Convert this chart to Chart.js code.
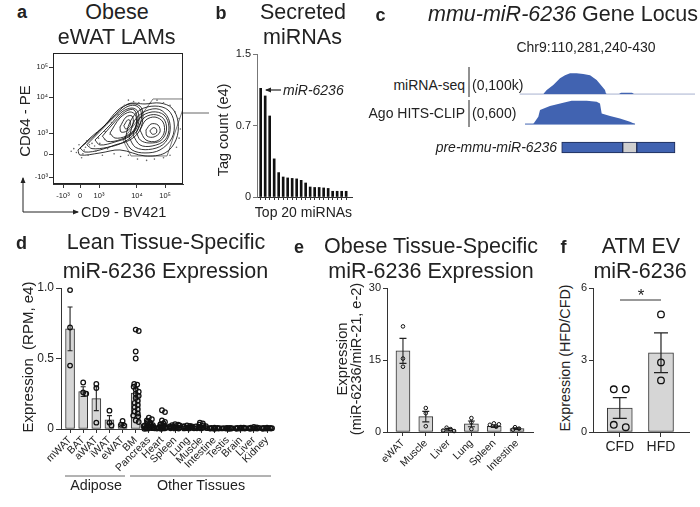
<!DOCTYPE html>
<html><head><meta charset="utf-8"><title>miR-6236</title>
<script src="https://cdn.jsdelivr.net/npm/chart.js@4.4.1/dist/chart.umd.min.js"></script>
<style>
html,body{margin:0;padding:0;background:#fff}
body{position:relative;width:700px;height:507px;overflow:hidden;font-family:"Liberation Sans",Arial,Helvetica,sans-serif;color:#222}
.t{position:absolute;white-space:nowrap;line-height:1}
canvas{position:absolute}
svg{position:absolute;left:0;top:0;z-index:5}
</style></head><body>
<svg width="700" height="507">
<defs><marker id="ah" markerWidth="6" markerHeight="6" refX="5" refY="3" orient="auto" markerUnits="userSpaceOnUse"><path d="M0,0.5 L6,3 L0,5.5 z" fill="#222"/></marker></defs>
<line x1="23" y1="212" x2="23" y2="178" stroke="#222" stroke-width="1" marker-end="url(#ah)"/>
<line x1="23" y1="212" x2="78" y2="212" stroke="#222" stroke-width="1" marker-end="url(#ah)"/>
<line x1="183" y1="113" x2="209" y2="113" stroke="#666" stroke-width="1"/>
<line x1="281" y1="90" x2="266" y2="90" stroke="#222" stroke-width="1.2" marker-end="url(#ah)"/>
<line x1="469" y1="67" x2="469" y2="97" stroke="#222" stroke-width="1"/>
<line x1="469" y1="100" x2="469" y2="127" stroke="#222" stroke-width="1"/>
<line x1="65" y1="476" x2="125" y2="476" stroke="#666" stroke-width="1"/>
<line x1="130" y1="476" x2="271" y2="476" stroke="#666" stroke-width="1"/>
<line x1="620" y1="300" x2="661" y2="300" stroke="#333" stroke-width="1"/>
</svg>
<script>
// ================= DATA =================
// Panel a : flow cytometry gate (axis units = display positions of the biexponential axes)
const aXTickPos = [7.7, 20.8, 35.4, 64.6, 86.2];
const aXTickLabels = ['-10³', '0', '10³', '10⁴', '10⁵'];
const aYTickPos = [5.3, 22.9, 38.9, 66.4, 89.3];
const aYTickLabels = ['-10³', '0', '10³', '10⁴', '10⁵'];
const aContourOuter = [[19.2,26],[32.3,37.4],[45.4,50.4],[57.7,61.1],[70.8,61.1],[82.3,61.8],[91.5,58],[96.2,47.3],[94.6,33.6],[86.2,23.7],[70.8,21.4],[51.5,26],[36.2,23.7],[20.8,22.1],[19.2,26]];
const aContoursLeft = [
 [[20.8,27.5],[28.5,35.1],[40,45],[50,56.5],[59.2,61.1],[66.9,59.5],[69.2,52.7],[66.9,41.2],[59.2,33.6],[47.7,29.8],[36.2,26],[24.6,24.4],[20.8,27.5]],
 [[26,30],[36,40],[47,51],[56,58.5],[63,60],[67.5,56],[67.5,47],[63,38.5],[53.5,31.5],[42,28],[30,27],[26,30]],
 [[32.3,33.6],[43.8,45],[53.1,55],[60.8,58],[65.4,55],[65.4,45],[59.2,36.6],[47.7,32.1],[36.2,29.8],[32.3,33.6]],
 [[38,36.5],[48,48],[56,55.5],[62.5,56.5],[64.8,48],[61.5,39.5],[52,34],[42,32.5],[38,36.5]],
 [[43.8,38.9],[51.5,50.4],[59.2,55],[63.8,51.9],[63.1,42.7],[56.2,36.6],[47.7,35.1],[43.8,38.9]],
 [[51.5,43.5],[56.2,51.1],[60.8,51.9],[61.5,45.8],[56.9,40.5],[52.3,39.7],[51.5,43.5]],
 [[54.5,44.5],[57.5,49],[59.5,48],[59,44],[56,42],[54.5,44.5]]
];
const aContoursRight = [
 [[55.4,33.6],[59.2,47.3],[66.9,56.5],[78.5,59.5],[88.5,56.5],[93.1,47.3],[91.5,35.1],[82.3,26],[70.8,23.7],[60.8,26],[55.4,33.6]],
 [[58.5,35.5],[63,48.8],[71.5,55.8],[81.8,57],[88.8,50],[89.8,39],[84.5,30],[73.5,26.3],[63.5,28],[58.5,35.5]],
 [[61.5,37.4],[66.9,50.4],[76.2,55],[85.4,52.7],[89.2,43.5],[86.2,33.6],[76.2,29],[66.9,29.8],[61.5,37.4]],
 [[64.2,39.3],[69.2,49.7],[77.3,53],[85,50],[87.3,41.2],[83,33.2],[74,31.3],[67.2,33.5],[64.2,39.3]],
 [[66.9,41.2],[71.5,48.9],[78.5,51.1],[84.6,47.3],[85.4,38.9],[80,32.8],[71.5,33.6],[66.9,41.2]],
 [[71.5,41.2],[75.4,45.8],[80.8,45],[82.3,39.7],[77.7,35.9],[72.3,36.6],[71.5,41.2]],
 [[74.5,40.5],[77,43],[79.5,42],[79.5,39],[76.5,38],[74.5,40.5]]
];
const aGate = [[76.9,64.9],[100,64.9],[100,57.3],[87.7,21.4],[60,21.4],[53.8,33.6],[69.2,54.2],[76.9,64.9]];
const aDots = [[18,24],[22,20],[25,28],[27,22],[30,31],[33,25],[35,35],[38,22],[40,40],[42,27],[45,47],[47,23],[50,53],[52,21],[55,60],[58,64],[62,63],[66,62],[70,64],[75,62],[80,64],[85,62],[90,60],[94,55],[97,50],[98,42],[97,35],[95,28],[90,22],[85,20],[78,19],[72,18],[65,19],[58,22],[28,30],[32,29],[36,31],[40,34],[44,38],[24,26],[16,27],[20,30],[14,25],[26,33],[23,23]];

// Panel b : secreted miRNAs, top 20 (tag count, e4)
const bValues = [1.14, 1.06, 0.85, 0.40, 0.256, 0.21, 0.20, 0.195, 0.19, 0.175, 0.147, 0.105, 0.10, 0.10, 0.095, 0.09, 0.06, 0.06, 0.06, 0.06];
const bTickVals = [0, 0.75, 1.5];
const bTickLabels = ['0', '0.7', '1.5'];

// Panel c : locus chr9:110,281,240-430 coverage
const cSeqPos = [269.9, 273.5, 280.4, 287.5, 292.8, 298.1, 305, 312.1, 319.2, 326.2, 331.5, 335.0, 336.0, 337.1, 349.8, 351.9, 363.5, 365.6];
const cSeqVal = [0, 12.5, 28, 49, 59, 64.7, 65, 62.5, 59, 44, 25, 12.5, 2, 0, 0, 4, 4, 0];   // (0,100k)
const cSeqRange = [245, 430];
const cClipPos = [250.6, 259.3, 264.6, 266.4, 276.9, 290.9, 299.8, 315.7, 326.2, 329.7, 331.5, 340.3, 350.8, 361.4, 366.7];
const cClipVal = [0, 0, 137, 262, 337, 400, 437, 437, 419, 387, 200, 150, 106, 43, 0];       // (0,600)
const cClipRange = [250.6, 366.7];
const cGeneSegments = [[289.3, 353.7], [353.7, 368.5], [368.5, 408.9]];
const cGeneKinds = ['arm', 'loop', 'arm'];

// Panel d : lean tissue-specific expression (RPM, e4)
const dCats = ['mWAT','BAT','aWAT','iWAT','eWAT','BM','Pancreas','Heart','Spleen','Lung','Muscle','Intestine','Testis','Brain','Liver','Kidney'];
const dMeans = [0.71, 0.265, 0.215, 0.065, 0.035, 0.255, 0.02, 0.02, 0.015, 0.012, 0.015, 0.005, 0.004, 0.005, 0.006, 0.004];
const dSem = [0.155, 0.035, 0.085, 0.03, 0.01, 0.035, 0.005, 0.008, 0.003, 0.002, 0.004, 0.001, 0.001, 0.001, 0.001, 0.001];
const dPoints = [
 [0.985, 0.72, 0.45],
 [0.33, 0.26, 0.25],
 [0.32, 0.29, 0.045],
 [0.13, 0.045, 0.025],
 [0.057, 0.03, 0.025],
 [0.705, 0.695, 0.55, 0.50, 0.32, 0.315, 0.30, 0.28, 0.265, 0.25, 0.235, 0.22, 0.20, 0.185, 0.17, 0.155, 0.14, 0.125, 0.11, 0.095, 0.09, 0.06, 0.05],
 [0.08, 0.07, 0.06, 0.05, 0.045, 0.04, 0.035, 0.03, 0.028, 0.025, 0.022, 0.02, 0.018, 0.015, 0.012, 0.01, 0.008, 0.006, 0.005, 0.004, 0.003, 0.002],
 [0.133, 0.12, 0.06, 0.05, 0.04, 0.035, 0.03, 0.025, 0.02, 0.018, 0.015, 0.012, 0.01, 0.008, 0.006, 0.005, 0.004, 0.003, 0.002],
 [0.035, 0.03, 0.028, 0.025, 0.02, 0.018, 0.015, 0.012, 0.01, 0.008, 0.006, 0.005, 0.004, 0.003],
 [0.025, 0.022, 0.02, 0.018, 0.015, 0.012, 0.01, 0.008, 0.006, 0.005, 0.004, 0.003],
 [0.045, 0.04, 0.03, 0.025, 0.02, 0.018, 0.015, 0.012, 0.01, 0.008, 0.006, 0.005, 0.004],
 [0.01, 0.008, 0.007, 0.006, 0.005, 0.004, 0.004, 0.003, 0.003, 0.002],
 [0.008, 0.007, 0.006, 0.005, 0.004, 0.004, 0.003, 0.003, 0.002],
 [0.01, 0.009, 0.008, 0.006, 0.005, 0.004, 0.003, 0.003, 0.002],
 [0.014, 0.012, 0.01, 0.008, 0.006, 0.005, 0.004, 0.003, 0.002],
 [0.01, 0.008, 0.007, 0.006, 0.005, 0.004, 0.003, 0.003, 0.002]
];
const dTickVals = [0, 0.5, 1.0];
const dTickLabels = ['0', '0.5', '1.0'];

// Panel e : obese tissue-specific expression (miR-6236/miR-21, e-2)
const eCats = ['eWAT','Muscle','Liver','Lung','Spleen','Intestine'];
const eMeans = [16.9, 3.2, 0.5, 1.7, 1.2, 0.7];
const eSem = [2.6, 1.1, 0.25, 0.6, 0.25, 0.15];
const ePoints = [[22.0, 15.3, 13.6],[5.0, 3.9, 1.2],[0.9, 0.6, 0.3, 0.2],[2.9, 2.0, 0.6],[1.8, 1.6, 1.5, 1.1],[1.0, 0.7, 0.5]];
const eTickVals = [0, 15, 30];
const eTickLabels = ['0', '15', '30'];

// Panel f : ATM EV miR-6236 (HFD/CFD)
const fCats = ['CFD','HFD'];
const fMeans = [1.0, 3.3];
const fSem = [0.43, 0.83];
const fPoints = [[1.78, 1.78, 0.3, 0.2],[4.9, 2.9, 2.15]];
const fTickVals = [0, 3, 6];
const fTickLabels = ['0', '3', '6'];

// ================= HELPERS =================
Chart.defaults.font.family = '"Liberation Sans", Arial, Helvetica, sans-serif';
Chart.defaults.color = '#222';
const BLUE = '#4163b1';

function T(html, x, y, o = {}) {
  const d = document.createElement('div');
  d.className = 't';
  d.innerHTML = html;
  d.style.fontSize = (o.fs || 14) + 'px';
  if (o.b) d.style.fontWeight = 'bold';
  if (o.i) d.style.fontStyle = 'italic';
  d.style.left = x + 'px';
  d.style.top = y + 'px';
  const a = o.a || 'c';
  const tx = a === 'c' ? '-50%' : (a === 'l' ? '0%' : '-100%');
  d.style.transform = 'translate(' + tx + ',-50%)' + (o.rot ? ' rotate(' + o.rot + 'deg)' : '');
  document.body.appendChild(d);
}

function mk(left, top, w, h, cfg) {
  const c = document.createElement('canvas');
  c.width = w; c.height = h;
  c.style.left = left + 'px'; c.style.top = top + 'px';
  c.style.width = w + 'px'; c.style.height = h + 'px';
  document.body.appendChild(c);
  cfg.options = cfg.options || {};
  Object.assign(cfg.options, { responsive: false, animation: false, maintainAspectRatio: false });
  cfg.options.plugins = Object.assign({ legend: { display: false }, tooltip: { enabled: false } }, cfg.options.plugins || {});
  cfg.options.layout = cfg.options.layout || { padding: 0 };
  return new Chart(c, cfg);
}

function yAx(min, max, vals, labels, width, o = {}) {
  return {
    type: 'linear', min, max, offset: false,
    afterFit: s => { s.width = width; },
    afterBuildTicks: s => { s.ticks = vals.map(v => ({ value: v })); },
    ticks: { callback: (v, i) => labels[i], autoSkip: false, font: { size: o.fs || 11 }, color: '#222', padding: o.pad ?? 2 },
    grid: { offset: false, drawOnChartArea: false, drawTicks: true, tickLength: o.tl ?? 4, tickColor: o.col || '#333', tickWidth: 1 },
    border: { display: true, color: o.col || '#333', width: 1 }
  };
}
function xAx(min, max, vals, labels, height, o = {}) {
  return {
    type: 'linear', min, max, offset: false,
    afterFit: s => { s.height = height; },
    afterBuildTicks: s => { s.ticks = vals.map(v => ({ value: v })); },
    ticks: { callback: (v, i) => labels[i], autoSkip: false, minRotation: o.rot || 0, maxRotation: o.rot || 0, font: { size: o.fs || 11 }, color: '#222', padding: o.pad ?? 2 },
    grid: { offset: false, drawOnChartArea: false, drawTicks: true, tickLength: o.tl ?? 4, tickColor: '#333', tickWidth: 1 },
    border: { display: true, color: '#333', width: 1 }
  };
}
function errBars(means, sem, cap, lw) {
  return { id: 'errbars', afterDatasetDraw(chart, args) {
    if (args.meta.type !== 'bar') return;
    const ctx = chart.ctx, x = chart.scales.x, y = chart.scales.y;
    ctx.save(); ctx.strokeStyle = '#222'; ctx.lineWidth = lw; ctx.beginPath();
    means.forEach((m, i) => {
      const px = x.getPixelForValue(i);
      const t = y.getPixelForValue(m + sem[i]);
      const b = y.getPixelForValue(Math.max(0, m - sem[i]));
      ctx.moveTo(px, t); ctx.lineTo(px, b);
      ctx.moveTo(px - cap, t); ctx.lineTo(px + cap, t);
      ctx.moveTo(px - cap, b); ctx.lineTo(px + cap, b);
    });
    ctx.stroke(); ctx.restore();
  } };
}
const framePlugin = { id: 'frame', afterDraw(ch) {
  const ctx = ch.ctx, a = ch.chartArea;
  ctx.save(); ctx.strokeStyle = '#222'; ctx.lineWidth = 1;
  ctx.strokeRect(Math.round(a.left) + 0.5, Math.round(a.top) + 0.5, Math.round(a.right - a.left) - 1, Math.round(a.bottom - a.top) - 1);
  ctx.restore();
} };
// deterministic beeswarm layout of replicate dots (offsets in px -> category units)
function swarm(vals, pxX, pxY, sep, maxOff) {
  const placed = [];
  const offs = vals.map(v => {
    const yp = v * pxY; let best = 0, bestD = -1;
    for (let k = 0; k <= 2 * maxOff; k++) {
      const off = (k % 2 === 1 ? 1 : -1) * Math.ceil(k / 2);
      let d = Infinity;
      placed.forEach(p => { d = Math.min(d, Math.hypot(p[0] - off, p[1] - yp)); });
      if (d >= sep) { best = off; bestD = d; break; }
      if (d > bestD) { bestD = d; best = off; }
    }
    placed.push([best, yp]);
    return best;
  });
  // centre each row of (nearly) equal values around the category
  const tol = sep * 0.4;
  const idx = vals.map((_, i) => i).sort((a, b) => vals[b] - vals[a]);
  let row = [];
  const flush = () => {
    if (row.length > 1) { const m = row.reduce((s, i) => s + offs[i], 0) / row.length; row.forEach(i => { offs[i] -= m; }); }
    row = [];
  };
  idx.forEach(i => { if (row.length && Math.abs(vals[row[0]] - vals[i]) * pxY > tol) flush(); row.push(i); });
  flush();
  return offs.map(o => o / pxX);
}
function dotData(points, pxX, pxY, sep, maxOff) {
  const out = [];
  points.forEach((arr, i) => {
    const offs = swarm(arr, pxX, pxY, sep, maxOff);
    arr.forEach((v, j) => out.push({ x: i + offs[j], y: v }));
  });
  return out;
}
const xy = arr => arr.map(p => ({ x: p[0], y: p[1] }));

// ================= PANEL A =================
const aSets = [];
aSets.push({ data: xy(aDots), pointRadius: 0.8, pointBackgroundColor: '#666', pointBorderWidth: 0, showLine: false });
[aContourOuter].concat(aContoursLeft, aContoursRight).forEach(r => {
  aSets.push({ data: xy(r), showLine: true, pointRadius: 0, borderColor: '#111', borderWidth: 0.85, tension: 0.35 });
});
aSets.push({ data: xy(aGate), showLine: true, pointRadius: 0, borderColor: '#777', borderWidth: 1, tension: 0 });
mk(0, 40, 190, 172, {
  type: 'scatter', data: { datasets: aSets },
  options: { layout: { padding: { top: 13, right: 7 } },
    scales: { x: xAx(0, 100, aXTickPos, aXTickLabels, 28, { fs: 7.5, tl: 4, pad: 3 }),
              y: yAx(0, 100, aYTickPos, aYTickLabels, 53, { fs: 7.5, tl: 4, pad: 1 }) } },
  plugins: [framePlugin]
});

// ================= PANEL B =================
mk(200, 44, 160, 170, {
  type: 'bar',
  data: { datasets: [{ data: bValues.map((v, i) => ({ x: i, y: v })), backgroundColor: '#111', borderWidth: 0, barThickness: 2 }] },
  options: { layout: { padding: { top: 10, right: 8 } },
    scales: { x: xAx(-0.82, 20.3, bValues.map((_, i) => i), bValues.map(() => ''), 17, { tl: 3, pad: 0 }),
              y: yAx(0, 1.5, bTickVals, bTickLabels, 57, { fs: 11, tl: 4, col: '#777' }) } }
});

// ================= PANEL C =================
const noAx = { x: { type: 'linear', min: 240, max: 430, display: false } };
mk(515, 62, 180, 34, {
  type: 'line',
  data: { datasets: [
    { data: cSeqPos.map((p, i) => ({ x: p, y: cSeqVal[i] })), fill: 'origin', backgroundColor: BLUE, borderWidth: 0, pointRadius: 0, tension: 0 },
    { data: cSeqRange.map(p => ({ x: p, y: 0 })), borderColor: '#a7b1cf', borderWidth: 1, pointRadius: 0, fill: false }
  ] },
  options: { scales: Object.assign({}, noAx, { y: { min: -6, max: 100, display: false } }) }
});
mk(515, 92, 180, 34, {
  type: 'line',
  data: { datasets: [
    { data: cClipPos.map((p, i) => ({ x: p, y: cClipVal[i] })), fill: 'origin', backgroundColor: BLUE, borderWidth: 0, pointRadius: 0, tension: 0 },
    { data: cClipRange.map(p => ({ x: p, y: 0 })), borderColor: BLUE, borderWidth: 1, pointRadius: 0, fill: false }
  ] },
  options: { scales: Object.assign({}, noAx, { y: { min: -36, max: 600, display: false } }) }
});
mk(515, 136, 180, 23, {
  type: 'bar',
  data: { labels: ['pre-mmu-miR-6236'], datasets: cGeneSegments.map((s, i) => ({
    data: [s], backgroundColor: cGeneKinds[i] === 'loop' ? '#cfcfcf' : BLUE, borderColor: '#1d2a52', borderWidth: 1, borderSkipped: false, barThickness: 11, grouped: false })) },
  options: { indexAxis: 'y', scales: { x: { type: 'linear', min: 240, max: 430, display: false }, y: { display: false } } }
});

// ================= PANEL D =================
mk(0, 278, 282, 206, {
  type: 'bar',
  data: { datasets: [
    { type: 'scatter', order: 1, clip: false, data: dotData(dPoints, 13.07, 141, 3.0, 5), pointRadius: 2.3, pointBorderWidth: 1.25, pointBorderColor: '#111', pointBackgroundColor: 'rgba(255,255,255,0)' },
    { type: 'bar', order: 2, data: dMeans.map((m, i) => ({ x: i, y: m })), backgroundColor: '#d6d6d6', borderColor: '#333', borderWidth: 1, borderSkipped: false, barThickness: 9 }
  ] },
  options: { layout: { padding: { top: 10, right: 10, bottom: 10 } },
    scales: { x: xAx(-0.69, 15.38, dCats.map((_, i) => i), dCats, 45, { fs: 10.5, tl: 4, rot: 45, pad: 1 }),
              y: yAx(0, 1, dTickVals, dTickLabels, 61, { fs: 12, tl: 5 }) } },
  plugins: [errBars(dMeans, dSem, 2.5, 1.1)]
});

// ================= PANEL E =================
mk(330, 278, 210, 206, {
  type: 'bar',
  data: { datasets: [
    { type: 'scatter', order: 1, clip: false, data: dotData(ePoints, 22.8, 4.8, 4.2, 7), pointRadius: 1.8, pointBorderWidth: 1, pointBorderColor: '#111', pointBackgroundColor: 'rgba(255,255,255,0)' },
    { type: 'bar', order: 2, data: eMeans.map((m, i) => ({ x: i, y: m })), backgroundColor: '#d6d6d6', borderColor: '#333', borderWidth: 1, borderSkipped: false, barThickness: 14 }
  ] },
  options: { layout: { padding: { top: 10, right: 7, bottom: 10 } },
    scales: { x: xAx(-0.7, 5.7, eCats.map((_, i) => i), eCats, 42, { fs: 10.5, tl: 4, rot: 45, pad: 1 }),
              y: yAx(0, 30, eTickVals, eTickLabels, 57, { fs: 11, tl: 4 }) } },
  plugins: [errBars(eMeans, eSem, 3.5, 1.1)]
});

// ================= PANEL F =================
mk(575, 278, 120, 206, {
  type: 'bar',
  data: { datasets: [
    { type: 'scatter', order: 1, clip: false, data: dotData(fPoints, 41.2, 24, 12, 13), pointRadius: 3.3, pointBorderWidth: 1.3, pointBorderColor: '#111', pointBackgroundColor: 'rgba(255,255,255,0)' },
    { type: 'bar', order: 2, data: fMeans.map((m, i) => ({ x: i, y: m })), backgroundColor: '#d6d6d6', borderColor: '#333', borderWidth: 1, borderSkipped: false, barThickness: 25 }
  ] },
  options: { layout: { padding: { top: 10, right: 6, bottom: 10 } },
    scales: { x: xAx(-0.65, 1.68, fCats.map((_, i) => i), fCats, 42, { fs: 14, tl: 5, pad: 2 }),
              y: yAx(0, 6, fTickVals, fTickLabels, 18, { fs: 11, tl: 4 }) } },
  plugins: [errBars(fMeans, fSem, 7, 1.2)]
});

// ================= TEXT =================
const TF = 21.5;
T('a', 22, 12, { fs: 18, b: true });
T('Obese', 117, 12.5, { fs: TF });
T('eWAT LAMs', 116.7, 37.7, { fs: TF });
T('CD64 - PE', 24, 121, { fs: 15, rot: -90 });
T('CD9 - BV421', 81, 212, { fs: 14.5, a: 'l' });

T('b', 221, 12.5, { fs: 18, b: true });
T('Secreted', 303, 12.5, { fs: TF });
T('miRNAs', 302.5, 38, { fs: TF });
T('Tag count (e4)', 223, 129.5, { fs: 14.5, rot: -90 });
T('Top 20 miRNAs', 303.5, 212, { fs: 14 });
T('miR-6236', 283, 90, { fs: 14, i: true, a: 'l' });

T('c', 380.5, 15, { fs: 18, b: true });
T('<i>mmu-miR-6236</i> Gene Locus', 428, 15, { fs: TF, a: 'l' });
T('Chr9:110,281,240-430', 586, 47, { fs: 14 });
T('miRNA-seq', 465, 85, { fs: 14, a: 'r' });
T('(0,100k)', 472, 85, { fs: 14, a: 'l' });
T('Ago HITS-CLIP', 465, 113, { fs: 14, a: 'r' });
T('(0,600)', 472, 113, { fs: 14, a: 'l' });
T('pre-mmu-miR-6236', 557, 147, { fs: 14, i: true, a: 'r' });

T('d', 21.5, 243, { fs: 18, b: true });
T('Lean Tissue-Specific', 166, 243, { fs: TF });
T('miR-6236 Expression', 165.5, 272, { fs: TF });
T('Expression&nbsp;&nbsp;(RPM, e4)', 27, 357, { fs: 15, rot: -90 });
T('Adipose', 96, 485, { fs: 14.3 });
T('Other Tissues', 201, 485, { fs: 14.3 });

T('e', 299, 247, { fs: 18, b: true });
T('Obese Tissue-Specific', 431, 247, { fs: TF });
T('miR-6236 Expression', 431, 272, { fs: TF });
T('Expression', 342, 359, { fs: 14.8, rot: -90 });
T('(miR-6236/miR-21, e-2)', 356, 359, { fs: 14.5, rot: -90 });

T('f', 563.5, 247, { fs: 18, b: true });
T('ATM EV', 641, 247, { fs: TF });
T('miR-6236', 640, 272, { fs: TF });
T('Expression (HFD/CFD)', 565, 358, { fs: 14.3, rot: -90 });
T('*', 641, 295, { fs: 17 });
</script>
</body></html>
